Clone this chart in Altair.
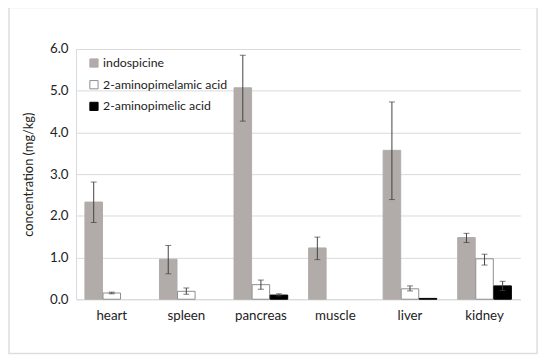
import altair as alt
import pandas as pd

tissues = ["heart", "spleen", "pancreas", "muscle", "liver", "kidney"]
series = ["indospicine", "2-aminopimelamic acid", "2-aminopimelic acid"]

indo_val = [2.33, 0.96, 5.07, 1.23, 3.57, 1.48]
indo_lo = [1.84, 0.61, 4.27, 0.95, 2.39, 1.36]
indo_hi = [2.81, 1.29, 5.85, 1.49, 4.73, 1.58]

amide_val = [0.15, 0.19, 0.35, 0.0, 0.25, 0.97]
amide_lo = [0.13, 0.12, 0.24, 0.0, 0.20, 0.82]
amide_hi = [0.17, 0.27, 0.46, 0.0, 0.32, 1.08]

acid_val = [0.0, 0.0, 0.10, 0.0, 0.02, 0.32]
acid_lo = [0.0, 0.0, 0.08, 0.0, 0.02, 0.21]
acid_hi = [0.0, 0.0, 0.13, 0.0, 0.02, 0.43]

colors = ["#B1ACA9", "#FFFFFF", "#000000"]
strokes = ["#B1ACA9", "#8C8C8C", "#000000"]

rows = []
for s, vals, los, his in [
    (series[0], indo_val, indo_lo, indo_hi),
    (series[1], amide_val, amide_lo, amide_hi),
    (series[2], acid_val, acid_lo, acid_hi),
]:
    for t, v, lo, hi in zip(tissues, vals, los, his):
        rows.append({"tissue": t, "series": s, "value": v, "lo": lo, "hi": hi,
                     "has_err": hi > lo})
df = pd.DataFrame(rows)

FONT = "Lato"

x_enc = alt.X("tissue:N", sort=tissues, title=None,
              scale=alt.Scale(domain=tissues, paddingInner=0.28, paddingOuter=0.12),
              axis=alt.Axis(labelAngle=0, labelFontSize=13.5, labelColor="#222222",
                            labelPadding=10, ticks=False, domainColor="#D9D9D9"))
xoff = alt.XOffset("series:N", sort=series,
                   scale=alt.Scale(domain=series, paddingInner=0.03))

legend_cfg = dict(title=None, orient="none", legendX=12, legendY=8,
                  symbolType="square", symbolSize=70,
                  labelFontSize=12.5, labelColor="#222222",
                  rowPadding=9, labelOffset=3, symbolStrokeWidth=1)

bars = alt.Chart(df[df["value"] > 0]).mark_bar(strokeWidth=1).encode(
    x=x_enc,
    xOffset=xoff,
    y=alt.Y("value:Q", title="concentration (mg/kg)",
            scale=alt.Scale(domain=[0, 6]),
            axis=alt.Axis(values=[0, 1, 2, 3, 4, 5, 6], format=".1f",
                          labelFontSize=13.5, labelColor="#222222", labelPadding=8,
                          ticks=False, domainColor="#D9D9D9", gridColor="#D9D9D9",
                          titleFontSize=13, titleFontWeight="normal",
                          titleColor="#222222", titlePadding=14)),
    fill=alt.Fill("series:N", sort=series,
                  scale=alt.Scale(domain=series, range=colors),
                  legend=alt.Legend(**legend_cfg)),
    stroke=alt.Stroke("series:N", sort=series,
                      scale=alt.Scale(domain=series, range=strokes),
                      legend=alt.Legend(**legend_cfg)),
)

err_df = df[df["has_err"]]
rules = alt.Chart(err_df).mark_rule(color="#404040", strokeWidth=1).encode(
    x=alt.X("tissue:N", sort=tissues),
    xOffset=xoff,
    y="lo:Q",
    y2="hi:Q",
)
caps_hi = alt.Chart(err_df).mark_tick(color="#404040", thickness=1, size=6).encode(
    x=alt.X("tissue:N", sort=tissues),
    xOffset=xoff,
    y="hi:Q",
)
caps_lo = alt.Chart(err_df).mark_tick(color="#404040", thickness=1, size=6).encode(
    x=alt.X("tissue:N", sort=tissues),
    xOffset=xoff,
    y="lo:Q",
)

border = alt.Chart(pd.DataFrame({"a": [0]})).mark_rect(
    fill=None, stroke="#DDDDDD", strokeWidth=1.5, clip=False
).encode(
    x=alt.value(-68), x2=alt.value(468), y=alt.value(-42), y2=alt.value(309)
)

chart = alt.layer(border, bars, rules, caps_hi, caps_lo).properties(
    width=451, height=254,
    autosize=alt.AutoSizeParams(type="none"),
    padding={"left": 69, "top": 39, "right": 22, "bottom": 55},
).configure(font=FONT).configure_view(stroke=None).configure_axis(
    labelFont=FONT, titleFont=FONT
).configure_legend(labelFont=FONT)

chart.save("out.html", embed_options={"renderer": "svg", "actions": False})
